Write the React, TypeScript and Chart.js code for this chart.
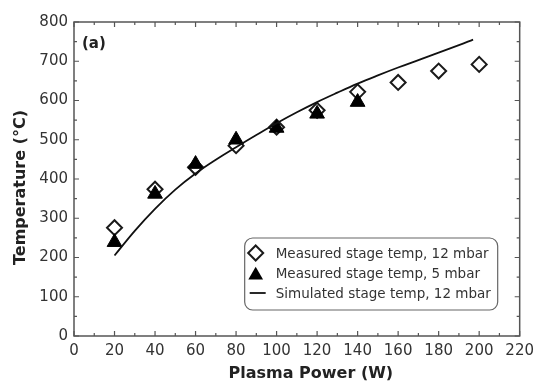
import React, { useEffect, useRef } from "react";
import { Chart, registerables } from "chart.js";

Chart.register(...registerables);

// ---- data ----
const power12 = [20, 40, 60, 80, 100, 120, 140, 160, 180, 200];
const temp12 = [276, 374, 430, 485, 532, 575, 622, 646, 675, 692];
const power5 = [20, 40, 60, 80, 100, 120, 140];
const temp5 = [239, 362, 438, 500, 530, 566, 596];
const powerSim = [20, 30, 40, 50, 60, 70, 80, 90, 100, 110, 120, 130, 140, 150, 160, 170, 180, 190, 197];
const tempSim = [205, 268, 324, 373, 414, 449, 481, 512, 542, 570, 596, 620, 643, 664, 684, 703, 722, 741, 755];

const seriesLabels = [
  "Measured stage temp, 12 mbar",
  "Measured stage temp, 5 mbar",
  "Simulated stage temp, 12 mbar",
];
const xTitle = "Plasma Power (W)";
const yTitle = "Temperature (°C)";
const panelLabel = "(a)";
const xRange = [0, 220];
const yRange = [0, 800];
const xStep = 20;
const yStep = 100;

const FONT = "'DejaVu Sans', 'Liberation Sans', Arial, sans-serif";
const AXIS = "#555";
const TXT = "#333";

function zip(xs: number[], ys: number[]) {
  return xs.map((x, i) => ({ x, y: ys[i] }));
}

const decorPlugin = {
  id: "decor",
  afterDatasetsDraw(chart: any) {
    const { ctx, chartArea: a, scales } = chart;
    const x = scales.x;
    const y = scales.y;
    ctx.save();
    // frame
    ctx.strokeStyle = AXIS;
    ctx.lineWidth = 1.5;
    ctx.strokeRect(a.left, a.top, a.right - a.left, a.bottom - a.top);
    // inward ticks (major + minor)
    ctx.lineWidth = 1.2;
    ctx.beginPath();
    const xt = x.ticks.map((t: any) => t.value);
    const xs: { v: number; major: boolean }[] = [];
    xt.forEach((v: number, i: number) => {
      xs.push({ v, major: true });
      if (i < xt.length - 1) xs.push({ v: (v + xt[i + 1]) / 2, major: false });
    });
    xs.forEach(({ v, major }) => {
      const px = x.getPixelForValue(v);
      const len = major ? 5 : 3;
      ctx.moveTo(px, a.bottom);
      ctx.lineTo(px, a.bottom - len);
      ctx.moveTo(px, a.top);
      ctx.lineTo(px, a.top + len);
    });
    const yt = y.ticks.map((t: any) => t.value);
    const ys: { v: number; major: boolean }[] = [];
    yt.forEach((v: number, i: number) => {
      ys.push({ v, major: true });
      if (i < yt.length - 1) ys.push({ v: (v + yt[i + 1]) / 2, major: false });
    });
    ys.forEach(({ v, major }) => {
      const py = y.getPixelForValue(v);
      const len = major ? 5 : 3;
      ctx.moveTo(a.left, py);
      ctx.lineTo(a.left + len, py);
      ctx.moveTo(a.right, py);
      ctx.lineTo(a.right - len, py);
    });
    ctx.stroke();

    // panel label
    ctx.fillStyle = "#222";
    ctx.font = `bold 15px ${FONT}`;
    ctx.textAlign = "left";
    ctx.textBaseline = "middle";
    ctx.fillText(panelLabel, a.left + 8, a.top + 22);

    // axis titles
    ctx.font = `bold 16px ${FONT}`;
    ctx.textAlign = "center";
    ctx.textBaseline = "alphabetic";
    ctx.fillText(xTitle, (a.left + a.right) / 2 + 14, chart.height - 5);
    ctx.save();
    ctx.translate(24.5, (a.top + a.bottom) / 2 + 8.5);
    ctx.rotate(-Math.PI / 2);
    ctx.fillText(yTitle, 0, 0);
    ctx.restore();

    // legend box
    const bw = 253;
    const bh = 72;
    const br = a.right - 22;
    const bb = a.bottom - 26;
    const bl = br - bw;
    const bt = bb - bh;
    ctx.beginPath();
    if (ctx.roundRect) ctx.roundRect(bl, bt, bw, bh, 8);
    else ctx.rect(bl, bt, bw, bh);
    ctx.fillStyle = "#fff";
    ctx.fill();
    ctx.strokeStyle = "#666";
    ctx.lineWidth = 1.2;
    ctx.stroke();

    const rows = [bt + 15, bt + 35, bt + 55];
    const sx = bl + 11;
    // diamond
    ctx.beginPath();
    ctx.moveTo(sx, rows[0] - 7.5);
    ctx.lineTo(sx + 7.5, rows[0]);
    ctx.lineTo(sx, rows[0] + 7.5);
    ctx.lineTo(sx - 7.5, rows[0]);
    ctx.closePath();
    ctx.strokeStyle = "#1a1a1a";
    ctx.lineWidth = 2;
    ctx.stroke();
    // triangle
    const r = 8.5;
    ctx.beginPath();
    ctx.moveTo(sx, rows[1] - r * 0.75);
    ctx.lineTo(sx + r * 0.866, rows[1] + r * 0.75);
    ctx.lineTo(sx - r * 0.866, rows[1] + r * 0.75);
    ctx.closePath();
    ctx.fillStyle = "#000";
    ctx.fill();
    // line
    ctx.beginPath();
    ctx.moveTo(bl + 5, rows[2]);
    ctx.lineTo(bl + 21, rows[2]);
    ctx.lineWidth = 1.8;
    ctx.strokeStyle = "#111";
    ctx.stroke();

    ctx.fillStyle = TXT;
    ctx.font = `13.5px ${FONT}`;
    ctx.textAlign = "left";
    ctx.textBaseline = "middle";
    seriesLabels.forEach((lab, i) => ctx.fillText(lab, bl + 31, rows[i] + 1));
    ctx.restore();
  },
};

export default function App() {
  const ref = useRef<HTMLCanvasElement | null>(null);
  useEffect(() => {
    if (!ref.current) return;
    const chart = new Chart(ref.current, {
      type: "scatter",
      data: {
        datasets: [
          {
            label: seriesLabels[2],
            data: zip(powerSim, tempSim),
            showLine: true,
            pointRadius: 0,
            borderColor: "#111",
            borderWidth: 1.8,
            tension: 0.4,
            order: 0,
          } as any,
          {
            label: seriesLabels[1],
            data: zip(power5, temp5),
            pointStyle: "triangle",
            pointRadius: 8.5,
            backgroundColor: "#000",
            borderColor: "#000",
            borderWidth: 1,
            order: 1,
          },
          {
            label: seriesLabels[0],
            data: zip(power12, temp12),
            pointStyle: "rectRot",
            pointRadius: 7.5,
            backgroundColor: "#fff",
            borderColor: "#1a1a1a",
            borderWidth: 2,
            order: 2,
          },
        ],
      },
      options: {
        animation: false,
        responsive: false,
        devicePixelRatio: 1,
        layout: { padding: { top: 22, right: 18, left: 0, bottom: 0 } },
        plugins: { legend: { display: false }, tooltip: { enabled: false } },
        scales: {
          x: {
            type: "linear",
            min: xRange[0],
            max: xRange[1],
            ticks: { stepSize: xStep, color: TXT, font: { family: FONT, size: 15 }, padding: 6, maxRotation: 0 },
            grid: { display: false, drawTicks: false },
            border: { display: false },
            afterFit: (s: any) => {
              s.height = 47;
            },
          },
          y: {
            type: "linear",
            min: yRange[0],
            max: yRange[1],
            ticks: { stepSize: yStep, color: TXT, font: { family: FONT, size: 15 }, padding: 6 },
            grid: { display: false, drawTicks: false },
            border: { display: false },
            afterFit: (s: any) => {
              s.width = 74;
            },
          },
        },
      },
      plugins: [decorPlugin],
    });
    return () => chart.destroy();
  }, []);
  return (
    <div style={{ position: "fixed", left: 0, top: 0, width: 540, height: 383, background: "#fff" }}>
      <canvas ref={ref} width={540} height={383} style={{ display: "block" }} />
    </div>
  );
}
